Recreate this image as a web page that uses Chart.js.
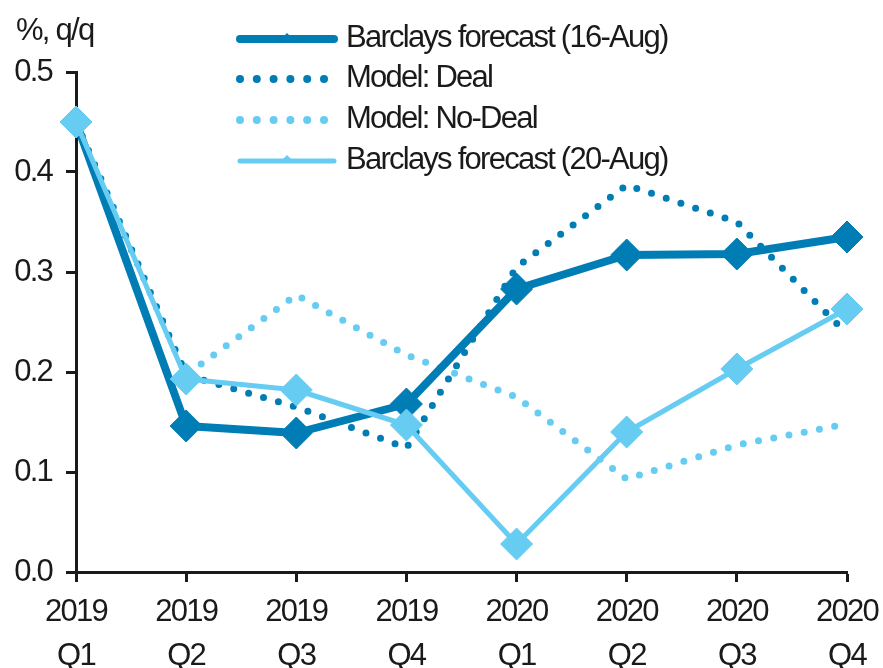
<!DOCTYPE html>
<html>
<head>
<meta charset="utf-8">
<script src="https://cdn.jsdelivr.net/npm/chart.js@4.4.1/dist/chart.umd.min.js"></script>
<style>
  html, body { margin: 0; padding: 0; background: #fff; }
  #grafico { display: block; }
</style>
</head>
<body>
<canvas id="grafico" width="883" height="668"></canvas>
<script>
/* ================= DADOS ================= */
const categorias = [
  ["2019", "Q1"], ["2019", "Q2"], ["2019", "Q3"], ["2019", "Q4"],
  ["2020", "Q1"], ["2020", "Q2"], ["2020", "Q3"], ["2020", "Q4"]
];
const barclays16Aug = [0.45, 0.146, 0.139, 0.168, 0.283, 0.317, 0.318, 0.335];
const modeloDeal    = [0.45, 0.197, 0.165, 0.124, 0.305, 0.387, 0.350, 0.238];
const modeloNoDeal  = [0.45, 0.197, 0.277, 0.217, 0.175, 0.093, 0.127, 0.148];
const barclays20Aug = [0.45, 0.193, 0.182, 0.147, 0.028, 0.140, 0.203, 0.263];
const nomesSeries = [
  "Barclays forecast (16-Aug)",
  "Model: Deal",
  "Model: No-Deal",
  "Barclays forecast (20-Aug)"
];
const ticksY = [0, 0.1, 0.2, 0.3, 0.4, 0.5];
const tituloY = "%, q/q";

/* ================= ESTILO ================= */
const AZUL = "#007DB5";
const AZUL_CLARO = "#66CCF2";
const TEXTO = "#1a1a1a";
const FONTE = "'Liberation Sans', Arial, sans-serif";
const ESPACO = "-1.75px";

/* ================= PLUGIN: espaçamento + legenda ================= */
const extras = {
  id: "extras",
  beforeUpdate(chart) { chart.ctx.letterSpacing = ESPACO; },
  beforeDraw(chart) { chart.ctx.letterSpacing = ESPACO; },
  afterDraw(chart) {
    const ctx = chart.ctx;
    ctx.save();
    ctx.letterSpacing = ESPACO;
    ctx.fillStyle = TEXTO;
    ctx.font = "31px " + FONTE;
    ctx.textBaseline = "alphabetic";
    ctx.textAlign = "left";
    ctx.fillText(tituloY, 16, 40);

    const linhas = [39, 79, 120, 161];
    chart.data.datasets.forEach((ds, i) => {
      const y = linhas[i];
      ctx.strokeStyle = ds.borderColor;
      ctx.fillStyle = ds.borderColor;
      if (ds.borderDash && ds.borderDash.length) {
        for (let k = 0; k < 6; k++) {
          ctx.beginPath();
          ctx.arc(240 + k * 16.8, y, 4, 0, Math.PI * 2);
          ctx.fill();
        }
      } else {
        ctx.lineWidth = ds.borderWidth;
        ctx.lineCap = "round";
        ctx.beginPath();
        ctx.moveTo(240, y);
        ctx.lineTo(334, y);
        ctx.stroke();
        ctx.beginPath();
        ctx.moveTo(281, y);
        ctx.lineTo(287, y - 6);
        ctx.lineTo(293, y);
        ctx.closePath();
        ctx.fill();
      }
      ctx.fillStyle = TEXTO;
      ctx.fillText(nomesSeries[i], 346, y + 8);
    });
    ctx.restore();
  }
};

/* ================= GRÁFICO ================= */
function serie(nome, valores, cor, largura, pontilhado, ordem) {
  return {
    label: nome,
    data: valores,
    borderColor: cor,
    backgroundColor: cor,
    borderWidth: largura,
    borderDash: pontilhado ? [0, 15.5] : [],
    borderCapStyle: pontilhado ? "round" : "butt",
    borderJoinStyle: "round",
    pointStyle: "rectRot",
    pointRadius: pontilhado ? 0 : 16,
    pointBorderWidth: 1,
    pointBackgroundColor: cor,
    pointBorderColor: cor,
    tension: 0,
    order: ordem
  };
}

new Chart(document.getElementById("grafico"), {
  type: "line",
  data: {
    labels: categorias,
    datasets: [
      serie(nomesSeries[0], barclays16Aug, AZUL, 8, false, 1),
      serie(nomesSeries[1], modeloDeal, AZUL, 7, true, 2),
      serie(nomesSeries[2], modeloNoDeal, AZUL_CLARO, 7, true, 3),
      serie(nomesSeries[3], barclays20Aug, AZUL_CLARO, 5, false, 0)
    ]
  },
  options: {
    responsive: false,
    animation: false,
    layout: { padding: { left: 0, top: 72, right: 36, bottom: 0 } },
    plugins: {
      legend: { display: false },
      tooltip: { enabled: false }
    },
    scales: {
      x: {
        offset: false,
        afterFit: s => {
          s.height = 96;
          s.paddingLeft = 0;
          s.paddingRight = 0;
        },
        border: { display: true, color: TEXTO, width: 3 },
        grid: {
          drawOnChartArea: false,
          tickLength: 10,
          tickColor: TEXTO,
          tickWidth: 3
        },
        ticks: {
          color: TEXTO,
          font: { size: 31, family: FONTE, lineHeight: 1.43 },
          padding: 8,
          maxRotation: 0,
          autoSkip: false
        }
      },
      y: {
        min: 0,
        max: 0.5,
        afterFit: s => { s.width = 76; },
        afterBuildTicks: s => { s.ticks = ticksY.map(v => ({ value: v })); },
        border: { display: true, color: TEXTO, width: 3 },
        grid: {
          drawOnChartArea: false,
          tickLength: 10,
          tickColor: TEXTO,
          tickWidth: 3
        },
        ticks: {
          color: TEXTO,
          font: { size: 31, family: FONTE },
          padding: 14,
          callback: v => Number(v).toFixed(1)
        }
      }
    }
  },
  plugins: [extras]
});
</script>
</body>
</html>
